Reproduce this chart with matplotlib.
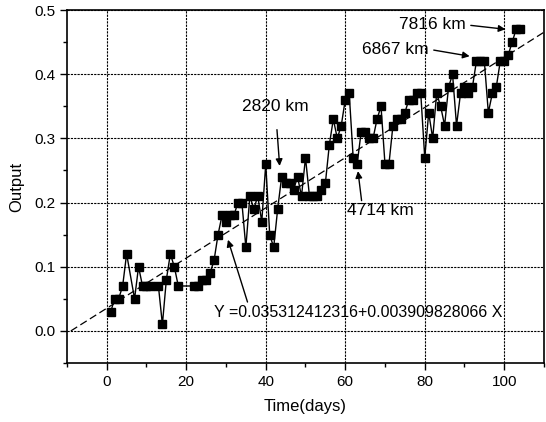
import matplotlib
matplotlib.use("Agg")
import matplotlib.pyplot as plt
import numpy as np

plt.rcParams['font.family'] = ['Liberation Sans', 'DejaVu Sans']

days = [1, 2, 3, 4, 5, 7, 8, 9, 10, 11, 13, 14, 15, 16, 17, 18, 22, 23, 24, 25,
        26, 27, 28, 29, 30, 31, 32, 33, 34, 35, 36, 37, 38, 39, 40, 41, 42, 43, 44, 45,
        46, 47, 48, 49, 50, 51, 52, 53, 54, 55, 56, 57, 58, 59, 60, 61, 62, 63, 64, 65,
        66, 67, 68, 69, 70, 71, 72, 73, 74, 75, 76, 77, 78, 79, 80, 81, 82, 83, 84, 85,
        86, 87, 88, 89, 90, 91, 92, 93, 94, 95, 96, 97, 98, 99, 100, 101, 102, 103, 104]
output = [0.03, 0.05, 0.05, 0.07, 0.12, 0.05, 0.10, 0.07, 0.07, 0.07, 0.07, 0.01, 0.08, 0.12, 0.10, 0.07, 0.07, 0.07, 0.08, 0.08,
          0.09, 0.11, 0.15, 0.18, 0.17, 0.18, 0.18, 0.20, 0.20, 0.13, 0.21, 0.19, 0.21, 0.17, 0.26, 0.15, 0.13, 0.19, 0.24, 0.23,
          0.23, 0.22, 0.24, 0.21, 0.27, 0.21, 0.21, 0.21, 0.22, 0.23, 0.29, 0.33, 0.30, 0.32, 0.36, 0.37, 0.27, 0.26, 0.31, 0.31,
          0.30, 0.30, 0.33, 0.35, 0.26, 0.26, 0.32, 0.33, 0.33, 0.34, 0.36, 0.36, 0.37, 0.37, 0.27, 0.34, 0.30, 0.37, 0.35, 0.32,
          0.38, 0.40, 0.32, 0.37, 0.38, 0.37, 0.38, 0.42, 0.42, 0.42, 0.34, 0.37, 0.38, 0.42, 0.42, 0.43, 0.45, 0.47, 0.47]

fit_intercept = 0.03531241232
fit_slope = 0.003909828066
fit_x_range = [-9.03, 110]

xticks = [0, 20, 40, 60, 80, 100]
yticks = [0.0, 0.1, 0.2, 0.3, 0.4, 0.5]

fig = plt.figure(figsize=(5.46, 4.22), dpi=100)
ax = fig.add_axes([0.1227, 0.1398, 0.8736, 0.8365])

ax.set_xlim(-10, 110)
ax.set_ylim(-0.05, 0.5)

for xv in xticks:
    ax.axvline(xv, color='black', lw=0.8, ls=(0, (2, 1)), zorder=1)
for yv in yticks:
    ax.axhline(yv, color='black', lw=0.8, ls=(0, (2, 1)), zorder=1)

ax.plot(days, output, color='black', lw=1.0, marker='s', markersize=5.5,
        markerfacecolor='black', markeredgecolor='black', zorder=3)

fx = np.array(fit_x_range)
ax.plot(fx, fit_intercept + fit_slope * fx, color='black', lw=0.9,
        ls=(0, (6, 3)), zorder=2)

ax.set_xticks(xticks)
ax.set_yticks(yticks)
ax.set_xticks(np.arange(-10, 111, 10), minor=True)
ax.set_yticks(np.arange(-0.05, 0.501, 0.05), minor=True)
ax.set_yticklabels(['%.1f' % v for v in yticks])
ax.tick_params(axis='both', which='major', direction='out', length=5, width=1,
               labelsize=11, colors='black')
ax.tick_params(axis='both', which='minor', direction='out', length=3, width=1)
for s in ax.spines.values():
    s.set_linewidth(1.2)
    s.set_color('black')

ax.set_xlabel('Time(days)', fontsize=12, labelpad=7)
ax.set_ylabel('Output', fontsize=12, labelpad=7)

lbl = 12.5
arrow = dict(arrowstyle='-|>', color='black', lw=1.0, mutation_scale=10)
ax.annotate('2820 km', xy=(43.5, 0.257), xytext=(42.4, 0.349), fontsize=lbl,
            ha='center', va='center', arrowprops=dict(arrow, shrinkA=9, shrinkB=0))
ax.annotate('4714 km', xy=(63.2, 0.249), xytext=(68.9, 0.187), fontsize=lbl,
            ha='center', va='center', arrowprops=dict(arrowstyle='-|>', color='black',
            lw=1.0, mutation_scale=10, shrinkA=0, shrinkB=0,
            relpos=(0.22, 1.0)))
ax.annotate('6867 km', xy=(91.3, 0.428), xytext=(72.5, 0.439), fontsize=lbl,
            ha='center', va='center', arrowprops=dict(arrow, shrinkA=2, shrinkB=0,
            relpos=(1.0, 0.5)))
ax.annotate('7816 km', xy=(100.3, 0.47), xytext=(81.8, 0.477), fontsize=lbl,
            ha='center', va='center', arrowprops=dict(arrow, shrinkA=2, shrinkB=0,
            relpos=(1.0, 0.5)))
ax.annotate('Y =0.03531241 2316+0.003909828066 X'.replace(' 2316', '2316'),
            xy=(30.5, 0.142), xytext=(63.2, 0.029), fontsize=11.5,
            ha='center', va='center', arrowprops=dict(arrow, shrinkA=0, shrinkB=0,
            relpos=(0.12, 1.0)))

fig.savefig('out.png', dpi=100)
